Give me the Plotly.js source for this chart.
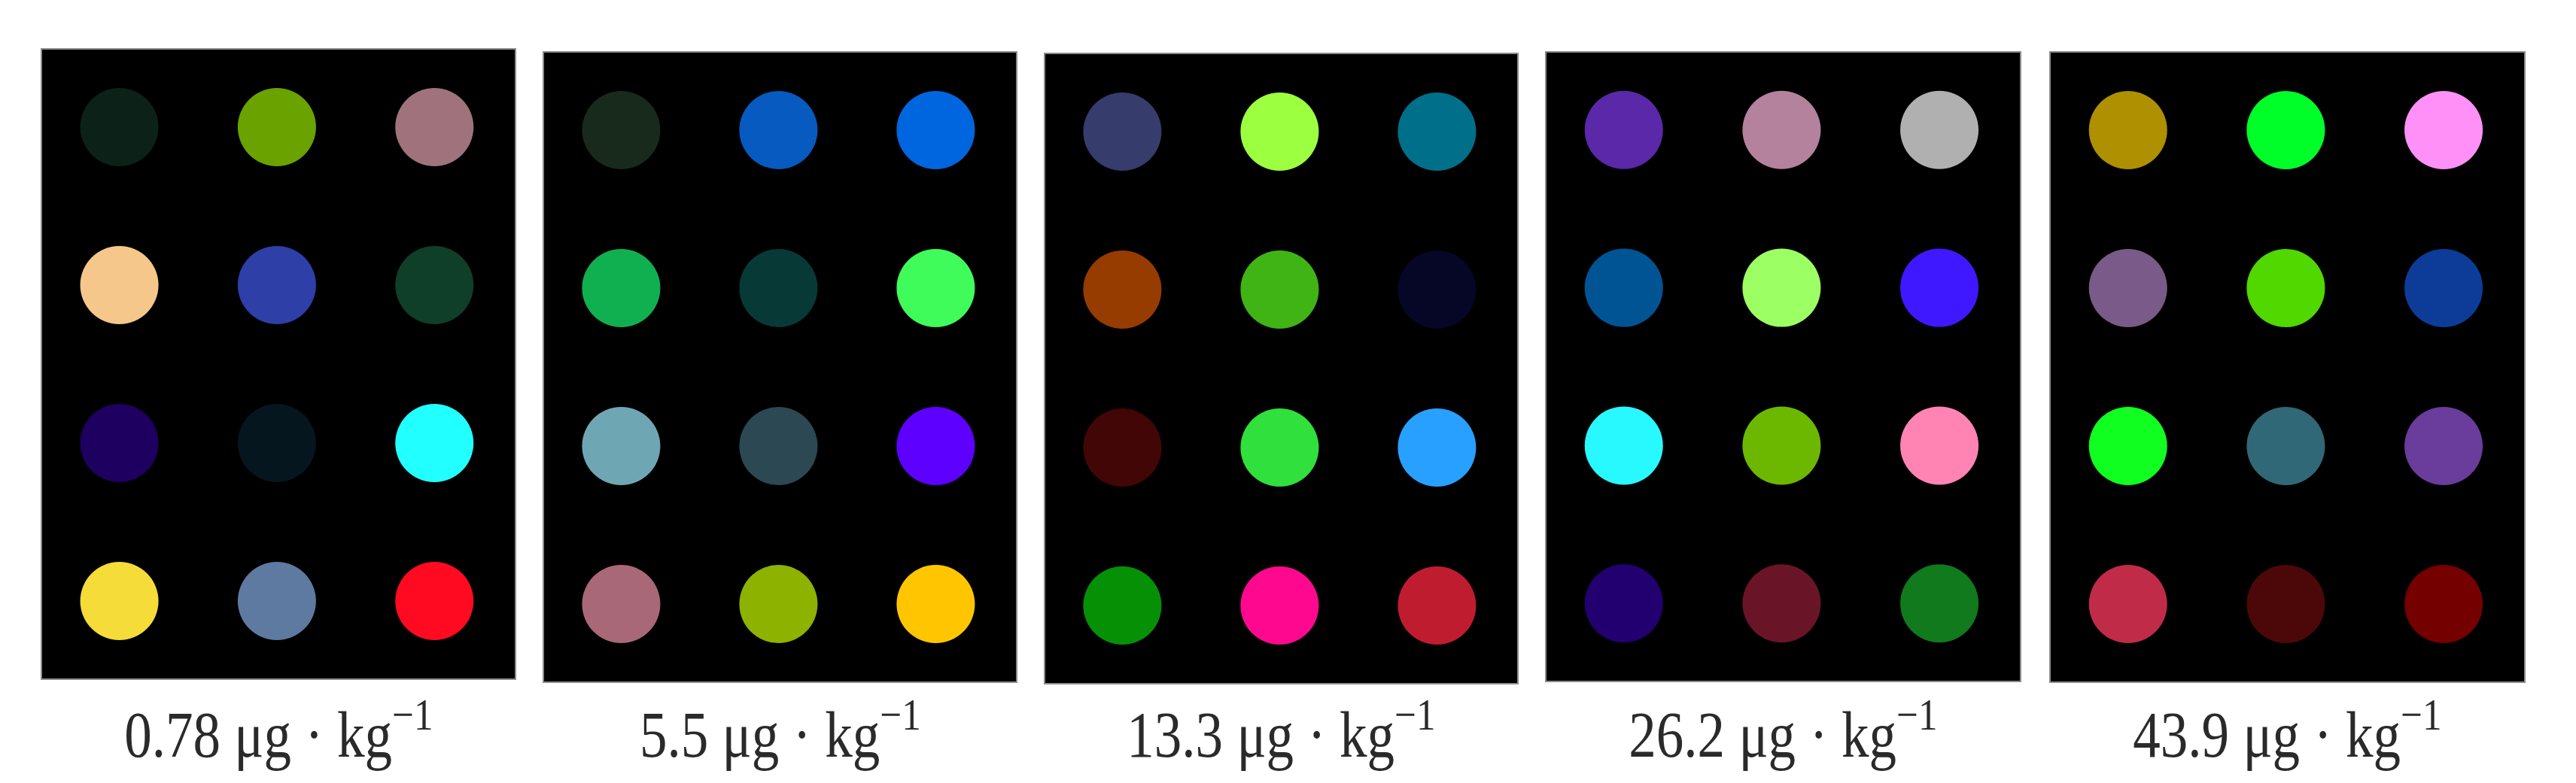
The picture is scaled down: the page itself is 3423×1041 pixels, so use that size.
<!DOCTYPE html>
<html>
<head>
<meta charset="utf-8">
<script src="https://cdn.plot.ly/plotly-3.0.1.min.js"></script>
<style>
  html, body { margin: 0; padding: 0; background: white; }
  #spot-plot { width: 3423px; height: 1041px; }
</style>
</head>
<body>
<div id="spot-plot"></div>
<script>
// concentrations shown under each panel
const concentrations = ['0.78', '5.5', '13.3', '26.2', '43.9'];

// 3 columns x 4 rows of spots per panel
const spotCols = [1, 2, 3];
const spotRows = [1, 2, 3, 4];

// spot colours, read row by row (left to right, top to bottom)
const colors078 = [
    '#0c2218', '#6aa200', '#a0737c',
    '#f5c78a', '#2e3fa8', '#0f3f28',
    '#1e0060', '#06161e', '#22ffff',
    '#f5dc38', '#5f7aa0', '#ff0a20'
];
const colors55 = [
    '#182a1c', '#075ac0', '#0066e0',
    '#10b050', '#073a36', '#40fc5a',
    '#6fa6b4', '#2c4852', '#5e00ff',
    '#a86878', '#8eb200', '#ffc600'
];
const colors133 = [
    '#363c6c', '#9cff40', '#00708a',
    '#963c00', '#40b414', '#060626',
    '#420606', '#30e03c', '#28a0ff',
    '#069006', '#ff0890', '#c01c30'
];
const colors262 = [
    '#5a28a8', '#b4829c', '#b0b0b0',
    '#005494', '#9cff64', '#4018ff',
    '#28f8ff', '#6cb800', '#ff84b4',
    '#220070', '#6a1428', '#107a1c'
];
const colors439 = [
    '#ae9000', '#00ff28', '#ff90f8',
    '#7a5a88', '#50d800', '#0c3c98',
    '#10ff20', '#306878', '#6a3c9c',
    '#c02c48', '#4c0808', '#740000'
];
const panelColors = [colors078, colors55, colors133, colors262, colors439];

// panel boxes in pixels: [left, right, top, bottom]
const W = 3423, H = 1041;
const panelBoxes = [
    [56, 684, 66, 902],
    [723, 1350, 70, 906],
    [1389, 2016, 72, 908],
    [2055, 2684, 70, 905],
    [2725, 3354, 70, 906]
];

// the captions in the source are a little narrow
const captionSqueeze = 0.85;

function buildTraces() {
    return panelColors.map((cols, p) => {
        const x = [], y = [];
        spotRows.forEach(r => spotCols.forEach(c => { x.push(c); y.push(r); }));
        const n = p === 0 ? '' : String(p + 1);
        return {
            x: x,
            y: y,
            xaxis: 'x' + n,
            yaxis: 'y' + n,
            type: 'scatter',
            mode: 'markers',
            marker: { color: cols, size: 104, symbol: 'circle', line: { width: 0 } },
            hoverinfo: 'skip',
            showlegend: false
        };
    });
}

function buildLayout() {
    const layout = {
        width: W,
        height: H,
        margin: { l: 0, r: 0, t: 0, b: 0 },
        paper_bgcolor: 'white',
        plot_bgcolor: 'black',
        showlegend: false,
        annotations: []
    };

    panelBoxes.forEach((b, p) => {
        const n = p === 0 ? '' : String(p + 1);
        const axisStyle = {
            showgrid: false,
            zeroline: false,
            showticklabels: false,
            ticks: '',
            showline: true,
            mirror: true,
            linecolor: '#8c8c8c',
            linewidth: 2,
            fixedrange: true
        };
        layout['xaxis' + n] = Object.assign({}, axisStyle, {
            domain: [b[0] / W, b[1] / W],
            range: [0.51, 3.51],
            anchor: 'y' + n
        });
        layout['yaxis' + n] = Object.assign({}, axisStyle, {
            domain: [1 - b[3] / H, 1 - b[2] / H],
            range: [4.49, 0.51],
            anchor: 'x' + n
        });

        layout.annotations.push({
            text: concentrations[p] + ' μg · kg<sup>−1</sup>',
            xref: 'paper',
            yref: 'paper',
            x: (b[0] + b[1]) / 2 / W,
            y: 1 - 970 / H,
            xanchor: 'center',
            yanchor: 'middle',
            showarrow: false,
            font: { family: '"Liberation Serif", "Times New Roman", serif', size: 86, color: '#2a2a2a' }
        });
    });
    return layout;
}

function squeezeCaptions(gd) {
    // narrow each caption around its own centre
    gd.querySelectorAll('.annotation').forEach((g, i) => {
        const b = panelBoxes[i];
        if (!b) return;
        const cx = (b[0] + b[1]) / 2;
        g.setAttribute('transform',
            `translate(${cx},0) scale(${captionSqueeze},1) translate(${-cx},0)`);
    });
}

Plotly.newPlot('spot-plot', buildTraces(), buildLayout(), { staticPlot: true, displayModeBar: false })
    .then(gd => squeezeCaptions(gd));
</script>
</body>
</html>
